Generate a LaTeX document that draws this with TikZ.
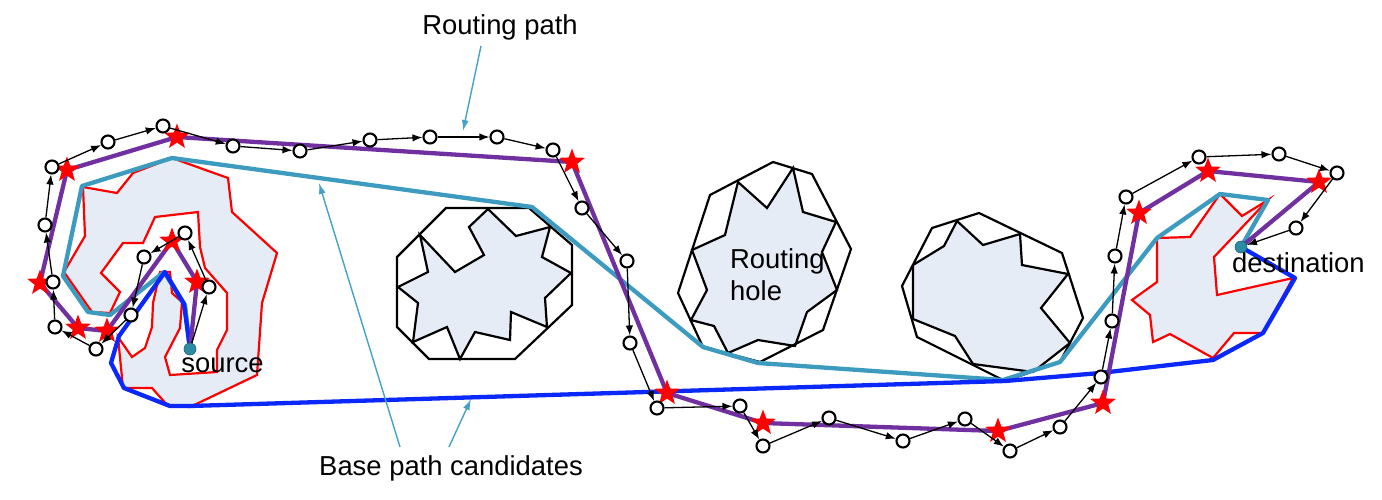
\documentclass[tikz,border=0pt]{standalone}
\usepackage{fontspec}
\setmainfont{Liberation Sans}
\usetikzlibrary{arrows.meta,shapes.geometric}
\definecolor{holefill}{RGB}{230,236,246}
\definecolor{rpurple}{RGB}{112,48,160}
\definecolor{rteal}{RGB}{60,155,190}
\definecolor{rblue}{RGB}{10,40,250}
\definecolor{annot}{RGB}{70,160,200}
\definecolor{dotc}{RGB}{45,140,165}
\begin{document}
\begin{tikzpicture}[x=1pt,y=-1pt,
  relay/.style={circle,draw=black,fill=white,line width=2.1pt,minimum size=13pt,inner sep=0pt},
  hop/.style={-{Latex[length=10pt,width=7.5pt]},line width=1.3pt,black},
  redstar/.style={star,star points=5,star point ratio=2.4,fill=red,draw=none,minimum size=27pt,inner sep=0pt},
  endpt/.style={circle,fill=dotc,draw=dotc!70!black,line width=0.6pt,minimum size=12pt,inner sep=0pt},
  redwall/.style={draw=red,fill=holefill,line width=2.2pt,line join=miter},
  holeout/.style={draw=black,line width=2.2pt,line join=miter},
  holestar/.style={draw=black,fill=holefill,line width=2.2pt,line join=miter},
  pathline/.style={line width=4.3pt,line join=round,line cap=round},
  annarrow/.style={-{Latex[length=11pt,width=7pt]},line width=1.4pt,annot},
  lbl/.style={font=\fontsize{27.4}{32}\selectfont,inner sep=0pt}]
\useasboundingbox (0,0) rectangle (1382,499);
% ---- positions ----
\coordinate (SRC) at (190,349);
\coordinate (DST) at (1241,247);
\coordinate (S1) at (197,282);
\coordinate (S2) at (172,241);
\coordinate (S3) at (107,331);
\coordinate (S4) at (78,328);
\coordinate (S5) at (40,283);
\coordinate (S6) at (67,170);
\coordinate (S7) at (177,137);
\coordinate (S8) at (572,162);
\coordinate (S9) at (667,393);
\coordinate (S10) at (763,423);
\coordinate (S11) at (998,431);
\coordinate (S12) at (1103,403);
\coordinate (S13) at (1139,213);
\coordinate (S14) at (1208,171);
\coordinate (S15) at (1319,182);
% ---- holes ----
\draw[redwall] (172,158) -- (228,178) -- (232,212) -- (277,253) -- (262,303) -- (257,375) -- (190,407) -- (168,406) -- (152,388) -- (123,388) -- (118,337) -- (132,357) -- (145,348) -- (152,327) -- (153,303) -- (160,272) -- (170,272) -- (172,293) -- (182,302) -- (180,328) -- (165,357) -- (170,375) -- (217,372) -- (217,350) -- (227,330) -- (227,293) -- (205,268) -- (200,247) -- (198,212) -- (155,217) -- (143,243) -- (123,243) -- (101,273) -- (120,292) -- (110,313) -- (92,312) -- (64,272) -- (85,236) -- (83,187) -- (117,193) -- (133,173) -- cycle;
\draw[redwall] (1220,194) -- (1242,216) -- (1268,200) -- (1214,257) -- (1217,295) -- (1293,278) -- (1263,333) -- (1234,333) -- (1213,358) -- (1170,334) -- (1153,342) -- (1150,315) -- (1132,300) -- (1157,282) -- (1157,238) -- (1190,237) -- cycle;
% hole 1
\draw[holestar] (420,235) -- (428,272) -- (398,287) -- (418,303) -- (413,342) -- (447,327) -- (460,359) -- (475,332) -- (510,340) -- (511,312) -- (547,327) -- (545,298) -- (571,273) -- (542,257) -- (550,227) -- (516,236) -- (488,209) -- (469,227) -- (484,255) -- (455,272) -- cycle;
\draw[holeout] (446,208) -- (529,208) -- (572,245) -- (572,305) -- (515,359) -- (429,359) -- (397,327) -- (397,257) -- cycle;
% hole 2
\draw[holestar] (738,182) -- (767,208) -- (793,168) -- (803,212) -- (836,222) -- (822,252) -- (837,290) -- (807,312) -- (795,346) -- (758,340) -- (728,353) -- (714,326) -- (691,320) -- (707,290) -- (692,250) -- (725,235) -- cycle;
\draw[holeout] (773,162) -- (812,174) -- (851,249) -- (823,330) -- (760,362) -- (703,347) -- (678,293) -- (710,195) -- cycle;
% hole 3
\draw[holestar] (957,221) -- (944,246) -- (913,265) -- (913,319) -- (955,336) -- (973,364) -- (1033,372) -- (1070,343) -- (1041,308) -- (1068,274) -- (1022,265) -- (1020,234) -- (983,245) -- cycle;
\draw[holeout] (902,286) -- (932,228) -- (979,213) -- (1062,253) -- (1083,318) -- (1060,362) -- (1005,381) -- (917,337) -- cycle;
% ---- base path candidates ----
\draw[pathline,rteal] (SRC) -- (185,305) -- (164,272) -- (110,315) -- (88,312) -- (63,276) -- (82,186) -- (172,158) -- (532,207) -- (703,347) -- (758,363) -- (1003,380) -- (1060,362) -- (1157,238) -- (1220,194) -- (1268,200) -- (DST);
\draw[pathline,rblue] (SRC) -- (184,304) -- (165,272) -- (119,336) -- (111,363) -- (124,388) -- (170,406) -- (190,406) -- (1005,381) -- (1100,373) -- (1213,360) -- (1263,333) -- (1295,278) -- (DST);
% ---- routing path ----
\draw[pathline,rpurple] (SRC) -- (S1) -- (S2) -- (S3) -- (S4) -- (S5) -- (S6) -- (S7) -- (S8) -- (S9) -- (S10) -- (S11) -- (S12) -- (S13) -- (S14) -- (S15) -- (DST);
% ---- stars ----
\foreach \i in {1,...,15} { \node[redstar] (s\i) at (S\i) {}; }
% ---- relay nodes ----
\node[endpt] (src) at (SRC) {};
\node[endpt] (dst) at (DST) {};
\node[relay] (c1) at (209,287) {};
\node[relay] (c2) at (185,233) {};
\node[relay] (c3) at (144,257) {};
\node[relay] (c4) at (131,315) {};
\node[relay] (c5) at (96,349) {};
\node[relay] (c6) at (55,327) {};
\node[relay] (c7) at (53,282) {};
\node[relay] (c8) at (45,225) {};
\node[relay] (c9) at (52,167) {};
\node[relay] (c10) at (108,142) {};
\node[relay] (c11) at (163,126) {};
\node[relay] (c12) at (233,146) {};
\node[relay] (c13) at (300,151) {};
\node[relay] (c14) at (370,140) {};
\node[relay] (c15) at (430,137) {};
\node[relay] (c16) at (497,137) {};
\node[relay] (c17) at (553,150) {};
\node[relay] (c18) at (582,208) {};
\node[relay] (c19) at (627,261) {};
\node[relay] (c20) at (630,343) {};
\node[relay] (c21) at (657,408) {};
\node[relay] (c22) at (740,406) {};
\node[relay] (c23) at (763,446) {};
\node[relay] (c24) at (829,418) {};
\node[relay] (c25) at (903,441) {};
\node[relay] (c26) at (965,419) {};
\node[relay] (c27) at (1010,451) {};
\node[relay] (c28) at (1060,427) {};
\node[relay] (c29) at (1101,377) {};
\node[relay] (c30) at (1112,321) {};
\node[relay] (c31) at (1115,256) {};
\node[relay] (c32) at (1126,197) {};
\node[relay] (c33) at (1199,157) {};
\node[relay] (c34) at (1279,154) {};
\node[relay] (c35) at (1337,173) {};
\node[relay] (c36) at (1296,228) {};
% ---- hops ----
\draw[hop] (src) -- (c1);
\foreach \a/\b in {1/2,2/3,3/4,4/5,5/6,6/7,7/8,8/9,9/10,10/11,11/12,12/13,13/14,14/15,15/16,16/17,17/18,18/19,19/20,20/21,21/22,22/23,23/24,24/25,25/26,26/27,27/28,28/29,29/30,30/31,31/32,32/33,33/34,34/35,35/36}
  { \draw[hop] (c\a) -- (c\b); }
\draw[hop] (c36) -- (dst);
% ---- labels ----
\node[lbl,anchor=base] (lblroute) at (500,34) {Routing path};
\node[lbl,anchor=base] (lblbase) at (451,475) {Base path candidates};
\node[lbl,anchor=base] (lblsrc) at (222.5,372) {source};
\node[lbl,anchor=base west] (lbldst) at (1232,272) {destination};
\node[lbl,anchor=base west] (lblholeA) at (730,268) {Routing};
\node[lbl,anchor=base west] (lblholeB) at (730,300) {hole};
\coordinate (ra0) at (481,46);
\coordinate (ra1) at (463,131);
\coordinate (ba0) at (400,447);
\coordinate (ba1) at (319,183);
\coordinate (bb0) at (449,447);
\coordinate (bb1) at (471,399);
\draw[annarrow] (ra0) -- (ra1);
\draw[annarrow] (ba0) -- (ba1);
\draw[annarrow] (bb0) -- (bb1);
\end{tikzpicture}
\end{document}
